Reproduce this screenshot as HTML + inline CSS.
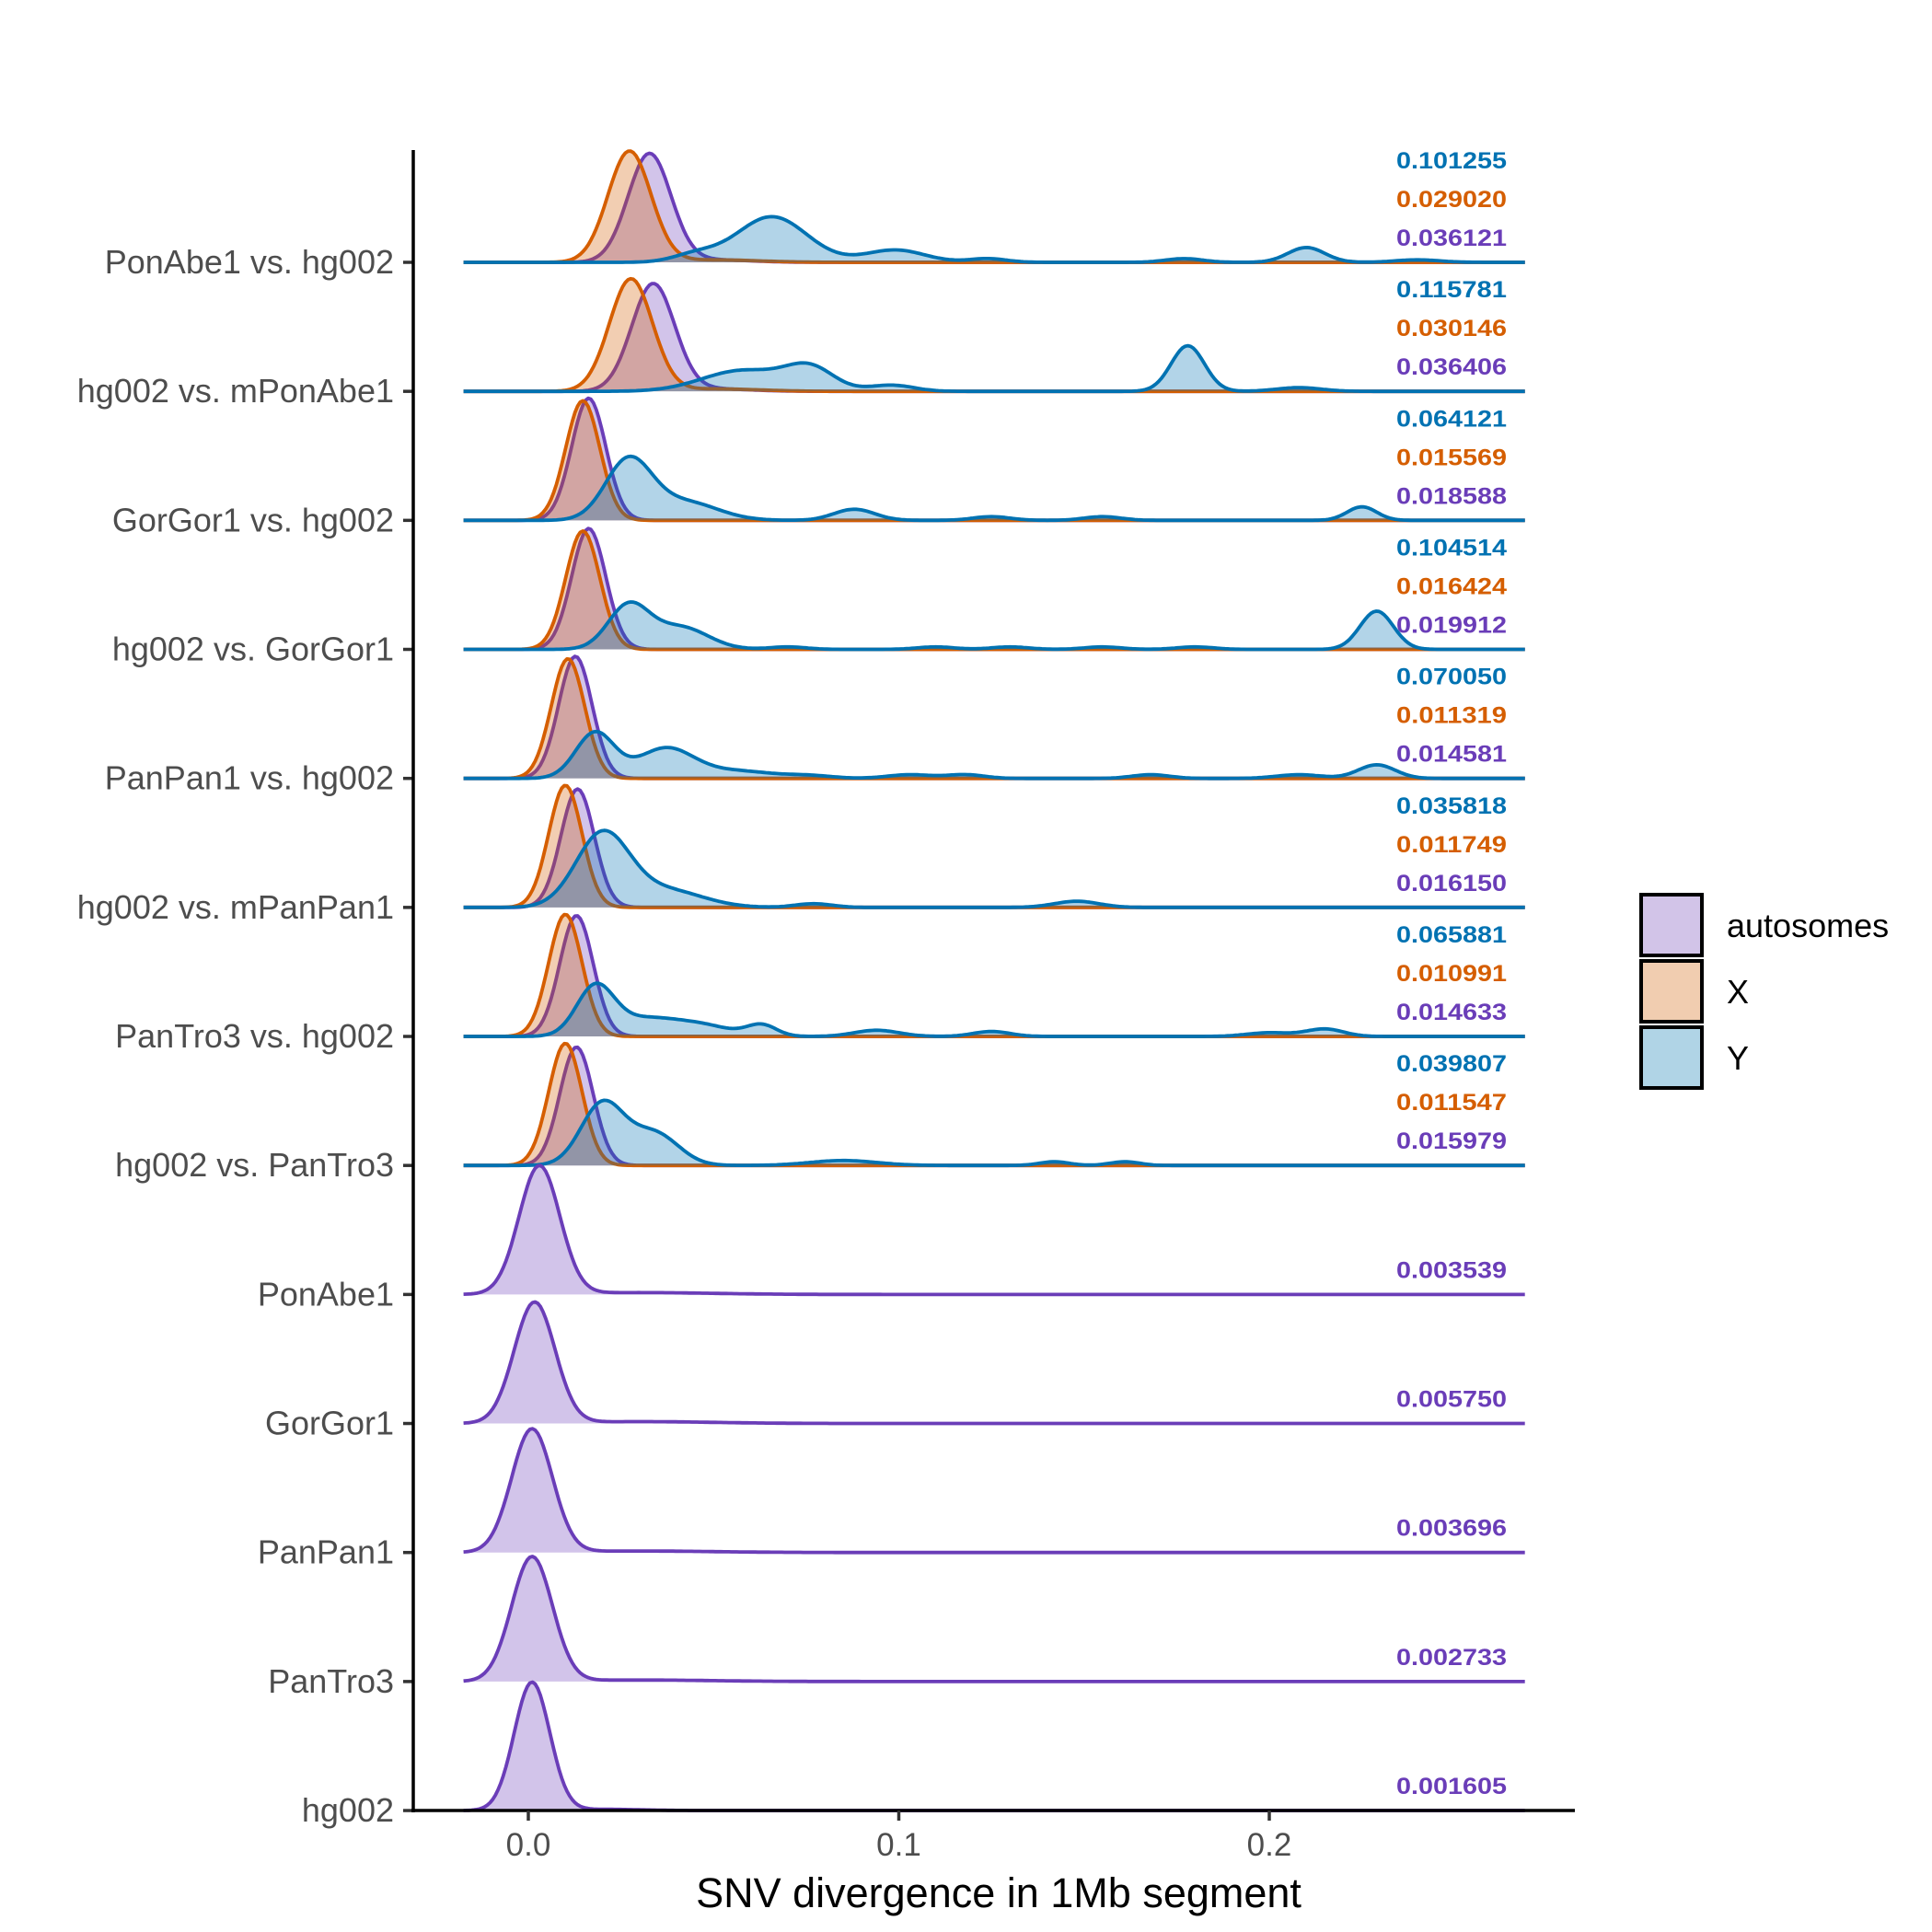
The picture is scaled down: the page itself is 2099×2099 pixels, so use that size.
<!DOCTYPE html>
<html><head><meta charset="utf-8"><style>
html,body{margin:0;padding:0;background:#fff;}
svg{display:block;}
text{font-family:"Liberation Sans",Arial,sans-serif;}
</style></head><body>
<svg id="chart" width="2099" height="2099" viewBox="0 0 2099 2099" xmlns="http://www.w3.org/2000/svg">
<g id="plot"></g>
<g id="axes"></g>
<g id="legend">
  <rect x="1783" y="972" width="66" height="66" fill="#d2c4e8" stroke="#000" stroke-width="4"/>
  <rect x="1783" y="1044" width="66" height="66" fill="#f1cdb0" stroke="#000" stroke-width="4"/>
  <rect x="1783" y="1116" width="66" height="66" fill="#b0d4e6" stroke="#000" stroke-width="4"/>
  <text x="1876" y="1018" font-size="36" fill="#000">autosomes</text>
  <text x="1876" y="1090" font-size="36" fill="#000">X</text>
  <text x="1876" y="1162" font-size="36" fill="#000">Y</text>
</g>
</svg>
<script>
// ---- data ----
const categories = ["PonAbe1 vs. hg002","hg002 vs. mPonAbe1","GorGor1 vs. hg002","hg002 vs. GorGor1","PanPan1 vs. hg002","hg002 vs. mPanPan1","PanTro3 vs. hg002","hg002 vs. PanTro3","PonAbe1","GorGor1","PanPan1","PanTro3","hg002"];
// density components per row: [center, height, sd]
const autoPeaks = [
 [[0.0327,88,0.0058],[0.05,2,0.01]],
 [[0.0337,87,0.0058],[0.05,2,0.01]],
 [[0.0163,99,0.0046]],
 [[0.0163,98,0.0046]],
 [[0.0127,99,0.0045]],
 [[0.0133,96,0.0045]],
 [[0.013,98,0.0045]],
 [[0.013,96,0.0045]],
 [[0.003,104,0.0055],[0.03,1.5,0.02]],
 [[0.0017,98,0.0055],[0.03,1.5,0.02]],
 [[0.001,100,0.0055],[0.03,1.2,0.02]],
 [[0.001,101,0.0055],[0.03,1.2,0.02]],
 [[0.001,104,0.0048],[0.02,1,0.01]]
];
const xPeaks = [
 [[0.0273,90,0.0058],[0.05,2,0.012]],
 [[0.0277,91,0.0058],[0.05,2,0.012]],
 [[0.0147,97,0.0046]],
 [[0.0147,96,0.0046]],
 [[0.0107,97,0.0045]],
 [[0.0100,99,0.0045]],
 [[0.010,99,0.0045]],
 [[0.010,99,0.0045]],
 [],[],[],[],[]
];
const yPeaks = [
 [[0.0657,37,0.0095],[0.045,6,0.006],[0.099,10,0.008],[0.124,3,0.005],[0.177,3,0.005],[0.21,12,0.005],[0.24,2,0.006]],
 [[0.058,17,0.011],[0.076,18,0.0065],[0.098,5,0.006],[0.178,37,0.0045],[0.208,3,0.006]],
 [[0.027,48,0.0062],[0.042,15,0.009],[0.088,9,0.0055],[0.125,3,0.005],[0.155,3,0.005],[0.225,11,0.004]],
 [[0.027,35,0.0055],[0.041,18,0.0075],[0.07,2,0.005],[0.11,2,0.005],[0.13,2,0.005],[0.155,2,0.005],[0.18,2,0.005],[0.229,31,0.0045]],
 [[0.018,37,0.0052],[0.037,24,0.0075],[0.056,6,0.01],[0.076,2,0.006],[0.103,3,0.006],[0.118,3,0.005],[0.168,3,0.005],[0.208,3,0.006],[0.229,11,0.005]],
 [[0.020,59,0.0072],[0.037,14,0.01],[0.077,3,0.005],[0.148,5,0.006]],
 [[0.018,38,0.005],[0.031,14,0.009],[0.047,8,0.008],[0.063,9,0.004],[0.094,5,0.006],[0.125,4,0.005],[0.2,3,0.006],[0.215,6,0.005]],
 [[0.020,50,0.0058],[0.034,26,0.0065],[0.085,4,0.009],[0.142,3,0.004],[0.161,3,0.004]],
 [],[],[],[],[]
];
const labelsY = ["0.101255","0.115781","0.064121","0.104514","0.070050","0.035818","0.065881","0.039807","","","","",""];
const labelsX = ["0.029020","0.030146","0.015569","0.016424","0.011319","0.011749","0.010991","0.011547","","","","",""];
const labelsAuto = ["0.036121","0.036406","0.018588","0.019912","0.014581","0.016150","0.014633","0.015979","0.003539","0.005750","0.003696","0.002733","0.001605"];
const xTicks = [0.0, 0.1, 0.2];
const xTickLabels = ["0.0","0.1","0.2"];

// ---- scales ----
const X0 = 574, XK = 4025;
const xs = v => X0 + v * XK;
const rowY = i => 285 + i * 140.17;
const hScale = 1.34;
const NS = "http://www.w3.org/2000/svg";
const plot = document.getElementById('plot');
const axes = document.getElementById('axes');
function mk(tag, attrs, parent){ const e=document.createElementNS(NS,tag); for(const k in attrs) e.setAttribute(k,attrs[k]); parent.appendChild(e); return e; }
function dens(peaks, x){ let s=0; for(const p of peaks){ const z=(x-p[0])/p[2]; s+=p[1]*Math.exp(-0.5*z*z);} return s; }

const COLS = {auto:"#6a3db8", x:"#d55e00", y:"#0072b2"};
const xmin=-0.0175, xmax=0.269, N=400;
function drawRidge(i, peaks, col, name){
  const base=rowY(i);
  let pts=[];
  for(let k=0;k<=N;k++){ const v=xmin+(xmax-xmin)*k/N; pts.push([xs(v), base - dens(peaks,v)*hScale]); }
  const line = pts.map((p,k)=>(k?'L':'M')+p[0].toFixed(1)+' '+p[1].toFixed(1)).join(' ');
  const g=mk('g',{},plot);
  
  
  const f=mk('path',{d: line+` L${xs(xmax).toFixed(1)} ${base} L${xs(xmin).toFixed(1)} ${base} Z`, fill:col, 'fill-opacity':0.3, stroke:'none'},g);
  
  
  const l=mk('path',{d:line, fill:'none', stroke:col, 'stroke-width':3.8, 'stroke-linejoin':'round'},g);
  
  
}
for(let i=0;i<categories.length;i++){
  drawRidge(i, autoPeaks[i], COLS.auto, 'ridge-autosomes-'+i);
  if(xPeaks[i].length) drawRidge(i, xPeaks[i], COLS.x, 'ridge-x-'+i);
  if(yPeaks[i].length) drawRidge(i, yPeaks[i], COLS.y, 'ridge-y-'+i);
  const base=rowY(i);
  const items=[[labelsY[i],COLS.y,-111,'value-label-y'],[labelsX[i],COLS.x,-69,'value-label-x'],[labelsAuto[i],COLS.auto,-27,'value-label-autosomes']];
  for(const it of items){ if(!it[0]) continue;
    const t=mk('text',{x:1637,y:base+it[2]+9,'text-anchor':'end','font-size':25,'font-weight':'bold',fill:it[1],textLength:120,lengthAdjust:'spacingAndGlyphs'},plot);
    t.textContent=it[0];
    
    
  }
  // y tick + label
  const tk=mk('line',{x1:438,x2:449,y1:base,y2:base,stroke:'#333',"stroke-width":3.5},axes);
  
  
  const yl=mk('text',{x:428,y:base+12,'text-anchor':'end','font-size':36,fill:'#4d4d4d'},axes);
  yl.textContent=categories[i];
  
  
}
// axes lines
const ya=mk('line',{x1:449,x2:449,y1:163,y2:1969,stroke:'#000','stroke-width':3.5},axes);


const xa=mk('line',{x1:447,x2:1711,y1:1967,y2:1967,stroke:'#000','stroke-width':3.5},axes);


xTicks.forEach((v,k)=>{
  const t=mk('line',{x1:xs(v),x2:xs(v),y1:1967,y2:1978,stroke:'#333','stroke-width':3.5},axes);
  
  
  const l=mk('text',{x:xs(v),y:2016,'text-anchor':'middle','font-size':35,fill:'#4d4d4d'},axes);
  l.textContent=xTickLabels[k];
  
  
});
const xt=mk('text',{x:1085,y:2072,'text-anchor':'middle','font-size':45,fill:'#000'},axes);
xt.textContent='SNV divergence in 1Mb segment';


</script>
</body></html>
